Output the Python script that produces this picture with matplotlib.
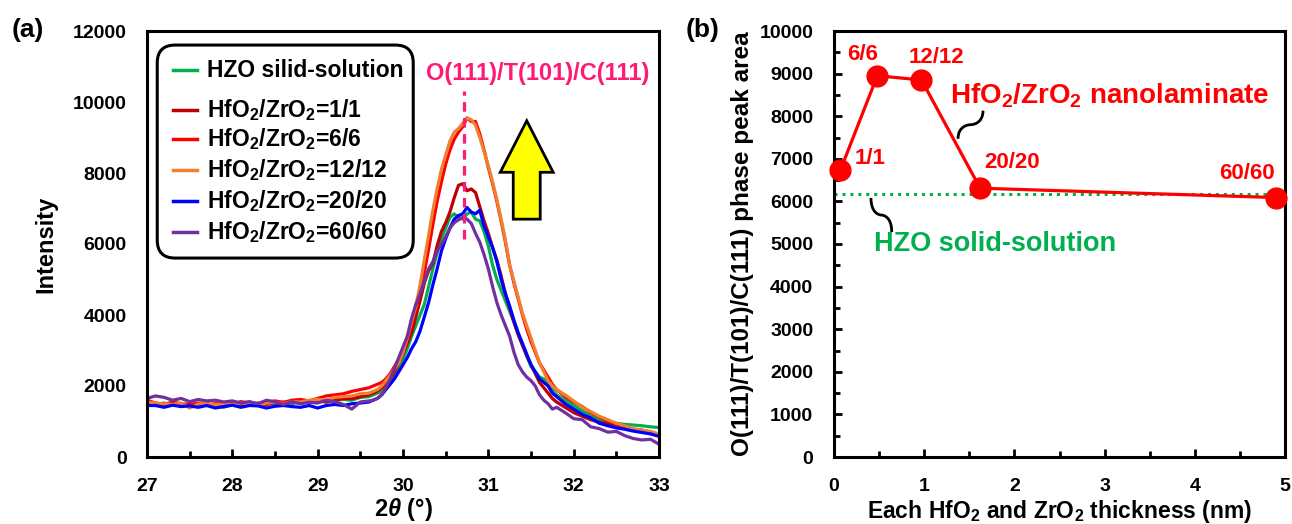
import matplotlib
matplotlib.use("Agg")
import matplotlib.pyplot as plt
from matplotlib.patches import FancyBboxPatch, FancyArrow, PathPatch
from matplotlib.path import Path
from matplotlib.lines import Line2D

plt.rcParams['font.family'] = ['Liberation Sans', 'DejaVu Sans']
plt.rcParams['font.weight'] = 'bold'
plt.rcParams['mathtext.fontset'] = 'custom'
plt.rcParams['mathtext.rm'] = 'Liberation Sans:bold'
plt.rcParams['mathtext.bf'] = 'Liberation Sans:bold'
plt.rcParams['mathtext.it'] = 'Liberation Sans:italic:bold'
plt.rcParams['mathtext.default'] = 'bf'

# ---------------- Panel (a) data: XRD scans ----------------
two_theta = [27.0, 27.1, 27.2, 27.3, 27.4, 27.5, 27.6, 27.7, 27.8, 27.9,
             28.0, 28.1, 28.2, 28.3, 28.4, 28.5, 28.6, 28.7, 28.8, 28.9,
             29.0, 29.1, 29.2, 29.3, 29.4, 29.5, 29.6,
             29.65, 29.70, 29.75, 29.80, 29.85, 29.90, 29.95, 30.00, 30.05, 30.10,
             30.15, 30.20, 30.25, 30.30, 30.35, 30.40, 30.45, 30.50, 30.55, 30.60,
             30.65, 30.70, 30.75, 30.80, 30.85, 30.90, 30.95, 31.00, 31.05, 31.10,
             31.15, 31.20, 31.25, 31.30, 31.35, 31.40, 31.45, 31.50, 31.55, 31.60,
             31.65, 31.70, 31.75, 31.80,
             31.9, 32.0, 32.1, 32.2, 32.3, 32.4, 32.5, 32.6, 32.7, 32.8, 32.9, 33.0]

hzo_solid = [1500, 1480, 1520, 1460, 1500, 1470, 1430, 1480, 1450, 1400,
             1480, 1470, 1500, 1460, 1520, 1480, 1550, 1500, 1560, 1520,
             1580, 1550, 1600, 1620, 1600, 1680, 1700,
             1750, 1800, 1850, 1950, 2100, 2300, 2500, 2750, 3050, 3400,
             3700, 4000, 4300, 4800, 5300, 5750, 6150, 6450, 6750, 6850,
             6750, 6700, 6850, 6900, 6700, 6650, 6350, 5950, 5400, 5000,
             4700, 4400, 4100, 3800, 3450, 3150, 2850, 2550, 2400, 2250,
             2200, 2050, 1900, 1750,
             1600, 1450, 1300, 1150, 1050, 980, 950, 920, 900, 880, 850, 830]

nl_1_1 = [1550, 1500, 1480, 1520, 1460, 1500, 1480, 1450, 1500, 1470,
          1480, 1500, 1470, 1520, 1480, 1530, 1500, 1550, 1520, 1560,
          1580, 1550, 1600, 1650, 1640, 1700, 1750,
          1800, 1850, 1950, 2050, 2200, 2400, 2650, 2900, 3200, 3500,
          3950, 4400, 4900, 5250, 5450, 5950, 6350, 6600, 6900, 7300,
          7650, 7700, 7500, 7550, 7450, 7050, 6650, 6300, 5900, 5550,
          5100, 4600, 4200, 3800, 3450, 3150, 2850, 2600, 2350, 2100,
          1950, 1800, 1650, 1550,
          1400, 1250, 1150, 1050, 980, 930, 900, 820, 760, 720, 680, 620]

nl_6_6 = [1600, 1520, 1480, 1550, 1500, 1460, 1520, 1490, 1480, 1530,
          1500, 1560, 1520, 1500, 1550, 1580, 1540, 1600, 1620, 1580,
          1650, 1720, 1750, 1780, 1850, 1900, 1950,
          2000, 2050, 2100, 2200, 2350, 2550, 2750, 3000, 3350, 3750,
          4150, 4650, 5200, 5850, 6550, 7200, 7750, 8250, 8650, 8950,
          9150, 9300, 9550, 9450, 9450, 9100, 8650, 8150, 7700, 7200,
          6650, 6050, 5400, 4900, 4450, 4000, 3600, 3250, 2950, 2650,
          2450, 2250, 2050, 1900,
          1700, 1550, 1420, 1250, 1130, 1020, 930, 870, 780, 760, 700, 640]

nl_12_12 = [1550, 1520, 1500, 1480, 1520, 1380, 1490, 1510, 1470, 1500,
            1480, 1520, 1500, 1460, 1520, 1540, 1500, 1560, 1550, 1600,
            1620, 1600, 1680, 1700, 1720, 1780, 1800,
            1850, 1900, 2000, 2150, 2300, 2480, 2650, 2950, 3350, 3800,
            4250, 4850, 5550, 6250, 6950, 7550, 8100, 8500, 8900, 9150,
            9250, 9400, 9550, 9500, 9350, 9000, 8600, 8200, 7750, 7250,
            6700, 6100, 5400, 4950, 4500, 4050, 3700, 3350, 3000, 2650,
            2400, 2150, 2000, 1900,
            1750, 1580, 1400, 1280, 1150, 1050, 950, 880, 800, 750, 720, 650]

nl_20_20 = [1450, 1450, 1400, 1460, 1420, 1440, 1400, 1450, 1380, 1420,
            1460, 1400, 1450, 1440, 1380, 1430, 1450, 1420, 1400, 1450,
            1380, 1450, 1480, 1450, 1500, 1520, 1550,
            1600, 1650, 1750, 1900, 2050, 2200, 2400, 2600, 2800, 3050,
            3250, 3550, 3950, 4350, 4850, 5300, 5800, 6150, 6450, 6700,
            6800, 6850, 7030, 6900, 6850, 6950, 6500, 6200, 5900, 5500,
            5000, 4600, 4250, 3850, 3500, 3200, 2900, 2600, 2400, 2200,
            2100, 2000, 1800, 1700,
            1500, 1350, 1200, 1100, 950, 880, 820, 780, 730, 690, 650, 580]

nl_60_60 = [1650, 1720, 1680, 1600, 1650, 1560, 1620, 1580, 1600, 1550,
            1580, 1520, 1560, 1500, 1600, 1550, 1480, 1560, 1500, 1540,
            1520, 1600, 1560, 1480, 1350, 1550, 1580,
            1600, 1650, 1750, 1950, 2200, 2500, 2800, 3100, 3400, 3900,
            4300, 4600, 4950, 5300, 5500, 5800, 6000, 6200, 6450, 6600,
            6680, 6750, 6700, 6580, 6300, 6050, 5700, 5300, 4800, 4350,
            4000, 3700, 3400, 2950, 2600, 2400, 2250, 2150, 2000, 1750,
            1600, 1500, 1350, 1400,
            1250, 1080, 1050, 850, 800, 700, 720, 600, 520, 480, 500, 360]

series_labels = ['HZO silid-solution',
                 'HfO$_2$/ZrO$_2$=1/1',
                 'HfO$_2$/ZrO$_2$=6/6',
                 'HfO$_2$/ZrO$_2$=12/12',
                 'HfO$_2$/ZrO$_2$=20/20',
                 'HfO$_2$/ZrO$_2$=60/60']
series_colors = ['#00B050', '#C00000', '#FF0000', '#F08030', '#0000FF', '#7030A0']
series_values = [hzo_solid, nl_1_1, nl_6_6, nl_12_12, nl_20_20, nl_60_60]

peak_position = 30.71
peak_label = 'O(111)/T(101)/C(111)'

# ---------------- Panel (b) data: peak area vs thickness ----------------
thickness_nm = [0.07, 0.48, 0.97, 1.62, 4.90]
peak_area = [6730, 8950, 8850, 6310, 6090]
point_labels = ['1/1', '6/6', '12/12', '20/20', '60/60']
hzo_area = 6185

fig = plt.figure(figsize=(12.92, 5.24), dpi=100)
axa = fig.add_axes([147/1292, 1-457/524, 512/1292, 426/524])
axb = fig.add_axes([834/1292, 1-457/524, 451/1292, 426/524])

TICK_FS = 14

# ---- panel (a)
for vals, col in zip(series_values, series_colors):
    axa.plot(two_theta, vals, color=col, lw=2.3, solid_joinstyle='round')
axa.set_xlim(27, 33)
axa.set_ylim(0, 12000)
axa.set_xticks([27, 28, 29, 30, 31, 32, 33])
axa.set_xticks([27.5, 28.5, 29.5, 30.5, 31.5, 32.5], minor=True)
axa.set_yticks([0, 2000, 4000, 6000, 8000, 10000, 12000])
axa.tick_params(axis='x', which='major', direction='in', length=6, width=2,
                labelsize=TICK_FS, pad=15)
axa.tick_params(axis='x', which='minor', direction='in', length=4, width=2)
axa.tick_params(axis='y', which='both', direction='in', length=0,
                labelsize=TICK_FS, pad=14.5)
for lab in axa.get_xticklabels() + axa.get_yticklabels():
    lab.set_fontweight('bold')
for sp in axa.spines.values():
    sp.set_linewidth(2.2)
axa.set_ylabel('Intensity', fontsize=17, fontweight='bold')
axa.yaxis.set_label_coords(-0.176, 0.5)
axa.set_xlabel(r'2$\mathit{\theta}$ (°)', fontsize=17, fontweight='bold', va='center')
axa.xaxis.set_label_coords(0.5, -0.1244)

axa.plot([peak_position, peak_position], [6150, 10300], color='#FF1A75', lw=2.3,
         ls=(0, (3, 2)))
axa.text(31.58, 10790, peak_label, color='#FF1A75', fontsize=17,
         fontweight='bold', ha='center', va='center')

arrow = FancyArrow(31.45, 6700, 0, 2770, width=0.316, head_width=0.62,
                   head_length=1450, length_includes_head=True,
                   facecolor='#FFFF00', edgecolor='black', lw=2, zorder=5)
axa.add_patch(arrow)

# manual legend
box = FancyBboxPatch((0.02, 0.467), 0.5, 0.5, transform=axa.transAxes,
                     boxstyle='round,pad=0,rounding_size=0.035',
                     facecolor='white', edgecolor='black', lw=2.2, zorder=6,
                     mutation_aspect=1.2)
axa.add_patch(box)
row_y = [0.908, 0.815, 0.746, 0.674, 0.600, 0.529]
for yy, lab, col in zip(row_y, series_labels, series_colors):
    axa.add_line(Line2D([0.051, 0.098], [yy, yy], transform=axa.transAxes,
                        color=col, lw=2.5, zorder=7))
    axa.text(0.117, yy, lab, transform=axa.transAxes, fontsize=16.5,
             fontweight='bold', va='center', ha='left', zorder=7)

fig.text(28/1292, 1-30/524, '(a)', fontsize=19, fontweight='bold', ha='center', va='center')
fig.text(703/1292, 1-30/524, '(b)', fontsize=19, fontweight='bold', ha='center', va='center')

# ---- panel (b)
axb.axhline(hzo_area, color='#00B050', lw=2.2, ls=(0, (1, 1.6)), zorder=2)
axb.plot(thickness_nm, peak_area, color='#FF0000', lw=2.3, marker='o',
         markersize=15, markerfacecolor='#FF0000', markeredgecolor='#FF0000',
         zorder=4, clip_on=False)
axb.set_xlim(0, 5)
axb.set_ylim(0, 10000)
axb.set_xticks([0, 1, 2, 3, 4, 5])
axb.set_xticks([0.5, 1.5, 2.5, 3.5, 4.5], minor=True)
axb.set_yticks(list(range(0, 10001, 1000)))
axb.set_yticks(list(range(500, 10000, 1000)), minor=True)
axb.tick_params(axis='both', which='major', direction='in', length=6, width=2,
                labelsize=TICK_FS, pad=15)
axb.tick_params(axis='both', which='minor', direction='in', length=4, width=2)
for lab in axb.get_xticklabels() + axb.get_yticklabels():
    lab.set_fontweight('bold')
for sp in axb.spines.values():
    sp.set_linewidth(2.2)
axb.set_ylabel('O(111)/T(101)/C(111) phase peak area', fontsize=17.5,
               fontweight='bold')
axb.yaxis.set_label_coords(-0.178, 0.5)
axb.set_xlabel('Each HfO$_2$ and ZrO$_2$ thickness (nm)', fontsize=16.5,
               fontweight='bold', va='center')
axb.xaxis.set_label_coords(0.5, -0.129)

label_offsets = [(0.33, 280), (-0.16, 510), (0.17, 520), (0.35, 600), (-0.32, 570)]
for xv, yv, lab, (dx, dy) in zip(thickness_nm, peak_area, point_labels, label_offsets):
    axb.text(xv + dx, yv + dy, lab, color='#FF0000', fontsize=16,
             fontweight='bold', ha='center', va='center')

axb.text(3.06, 8480, 'HfO$_2$/ZrO$_2$ nanolaminate', color='#FF0000', fontsize=20,
         fontweight='bold', ha='center', va='center')
axb.text(1.79, 4990, 'HZO solid-solution', color='#00B050', fontsize=19.5,
         fontweight='bold', ha='center', va='center')

def squiggle(ax, p0, p1):
    (x0, y0), (x1, y1) = p0, p1
    mx, my = (x0 + x1) / 2, (y0 + y1) / 2
    verts = [(x0, y0), (x0, y0 + (y1 - y0) * 0.45), (mx - (x1 - x0) * 0.1, my),
             (mx, my),
             (mx + (x1 - x0) * 0.1, my), (x1, y1 - (y1 - y0) * 0.45), (x1, y1)]
    codes = [Path.MOVETO, Path.CURVE4, Path.CURVE4, Path.CURVE4,
             Path.CURVE4, Path.CURVE4, Path.CURVE4]
    ax.add_patch(PathPatch(Path(verts, codes), facecolor='none',
                           edgecolor='black', lw=2, zorder=5))

squiggle(axb, (1.375, 7470), (1.652, 8130))
squiggle(axb, (0.41, 6080), (0.64, 5280))

fig.savefig('out.png', dpi=100)
